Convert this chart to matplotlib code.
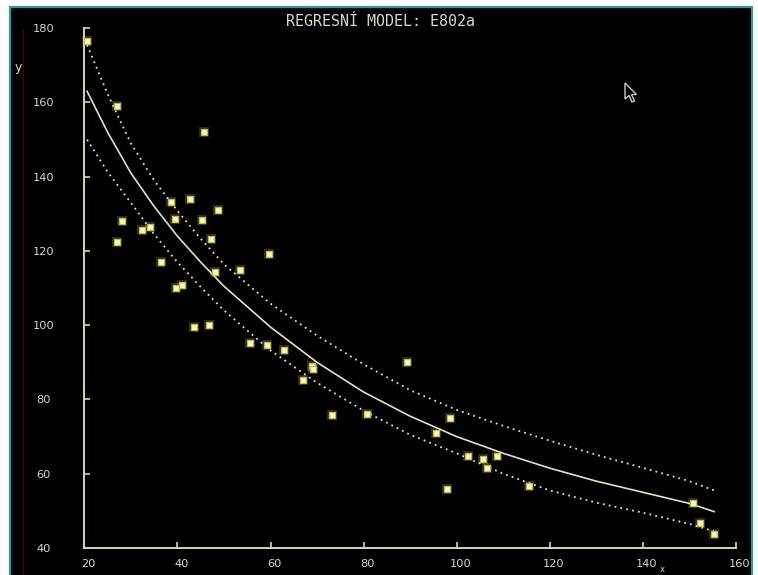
import matplotlib
matplotlib.use("Agg")
import matplotlib.pyplot as plt
from matplotlib.patches import Rectangle, Polygon
from matplotlib.lines import Line2D
import matplotlib.transforms as mtransforms

# ---- data -------------------------------------------------------------
x_obs = [20.6, 27.0, 45.7, 38.6, 42.7, 48.7, 28.0, 39.5, 45.2, 32.4, 34.2,
         47.2, 27.0, 36.4, 48.0, 53.4, 39.7, 41.0, 59.7, 43.5, 46.7, 55.7,
         59.2, 63.0, 68.9, 69.2, 67.0, 73.2, 80.7, 89.4, 98.5, 95.5, 102.5,
         105.7, 108.7, 106.6, 98.0, 115.5, 150.7, 152.3, 155.3]
y_obs = [176.5, 159.0, 152.1, 133.3, 134.0, 131.0, 128.1, 128.7, 128.4, 125.6,
         126.5, 123.2, 122.3, 117.1, 114.3, 114.9, 110.0, 110.9, 119.1, 99.6,
         100.1, 95.3, 94.7, 93.3, 88.9, 88.2, 85.2, 75.8, 76.1, 90.0, 74.9,
         70.9, 64.8, 64.1, 64.8, 61.5, 56.0, 56.7, 52.0, 46.7, 43.8]

# fitted model and its band, read at these x positions
x_fit = [20.6, 25, 30, 35, 40, 45, 50, 60, 70, 80, 90, 100, 110, 120, 130,
         140, 150, 155.3]
y_fit = [163.0, 152.0, 141.0, 132.0, 124.0, 117.0, 110.5, 99.5, 90.0, 82.0,
         75.5, 70.0, 65.5, 61.5, 58.0, 55.0, 52.0, 49.8]
y_upper = [175.5, 162.3, 149.0, 139.0, 130.8, 123.3, 116.4, 105.8, 97.2, 89.5,
           82.5, 77.2, 72.9, 68.9, 65.1, 61.6, 58.0, 55.5]
y_lower = [150.0, 141.3, 133.0, 124.5, 117.0, 110.3, 104.0, 93.2, 84.5, 77.0,
           70.5, 65.5, 60.0, 55.5, 52.2, 49.5, 46.5, 44.5]

x_ticks = [20, 40, 60, 80, 100, 120, 140, 160]
y_ticks = [40, 60, 80, 100, 120, 140, 160, 180]

title = "REGRESNÍ MODEL: E802a"

# ---- styling ----------------------------------------------------------
W, H = 758, 575
AXIS_C = "#d6d6a8"
TEXT_C = "#d8d8c4"
LINE_C = "#e2e2c0"
PT_FACE = "#fbfbb8"
PT_EDGE = "#bcbc52"

fig = plt.figure(figsize=(W / 100, H / 100), dpi=100, facecolor="white")

def fx(px):
    return px / W

def fy(py):
    return 1 - py / H

# screen background with a thin teal frame (bottom edge runs off the page)
fig.patches.append(Rectangle((fx(10), -0.05), fx(752) - fx(10), fy(7) + 0.05,
                             transform=fig.transFigure, facecolor="black",
                             edgecolor="#2a9c9c", linewidth=1.6, zorder=-10))
fig.lines.append(Line2D([fx(23), fx(23)], [0, fy(30)], transform=fig.transFigure,
                        color="#3a0a0a", linewidth=1.0, zorder=-5))

# plotting area: x=20 at px 84.3, x=160 at px 736; y=40 at px 548, y=180 at px 28
left, right = 84.3, 736.0
top, bottom = 28.2, 548.0
ax = fig.add_axes([fx(left), fy(bottom), fx(right) - fx(left), (bottom - top) / H])
ax.set_facecolor("none")
ax.set_xlim(20, 160)
ax.set_ylim(40, 180)

for s in ("top", "right"):
    ax.spines[s].set_visible(False)
for s in ("left", "bottom"):
    ax.spines[s].set_color(AXIS_C)
    ax.spines[s].set_linewidth(1.4)

ax.set_xticks(x_ticks)
ax.set_yticks(y_ticks)
ax.tick_params(axis="both", direction="in", length=4, width=1.2, color=AXIS_C,
               labelcolor=TEXT_C, labelsize=8.2)
ax.tick_params(axis="y", pad=31)
ax.tick_params(axis="x", pad=8)
for lab in ax.get_xticklabels():
    lab.set_transform(lab.get_transform() +
                      mtransforms.ScaledTranslation(4 / 100, 0, fig.dpi_scale_trans))
for lab in ax.get_yticklabels():
    lab.set_horizontalalignment("center")
    lab.set_transform(lab.get_transform() +
                      mtransforms.ScaledTranslation(2 / 100, 0, fig.dpi_scale_trans))
for lab in ax.get_yticklabels() + ax.get_xticklabels():
    lab.set_fontfamily("DejaVu Sans")

# band and fitted curve
dots = (0, (1.0, 2.3))
ax.plot(x_fit, y_upper, color=LINE_C, linewidth=1.3, linestyle=dots, zorder=2)
ax.plot(x_fit, y_lower, color=LINE_C, linewidth=1.3, linestyle=dots, zorder=2)
ax.plot(x_fit, y_fit, color=LINE_C, linewidth=1.2, zorder=3)

# observations: soft halo plus bright square
ax.scatter(x_obs, y_obs, marker="s", s=42, color="#f4f490", alpha=0.18,
           linewidths=0, zorder=4, clip_on=False)
ax.scatter(x_obs, y_obs, marker="s", s=16, facecolor=PT_FACE, edgecolor=PT_EDGE,
           linewidths=0.9, zorder=5, clip_on=False)

# captions
fig.text(fx(381), fy(22), title, color=TEXT_C, fontsize=10.8,
         family="DejaVu Sans Mono", ha="center", va="center")
fig.text(fx(18), fy(68), "y", color=TEXT_C, fontsize=9, family="DejaVu Sans",
         ha="center", va="center")
fig.text(fx(662), fy(574.5), "x", color=TEXT_C, fontsize=6, family="DejaVu Sans",
         ha="center", va="bottom")

# mouse pointer
cursor = [(625, 83), (625, 99), (629, 95.5), (632, 102), (634.5, 101),
          (631.5, 94.5), (636.5, 94.5)]
fig.patches.append(Polygon([(fx(a), fy(b)) for a, b in cursor], closed=True,
                           transform=fig.transFigure, facecolor="black",
                           edgecolor="#c8c8c8", linewidth=1.0, zorder=6))

fig.savefig("out.png", dpi=100, facecolor="white")
